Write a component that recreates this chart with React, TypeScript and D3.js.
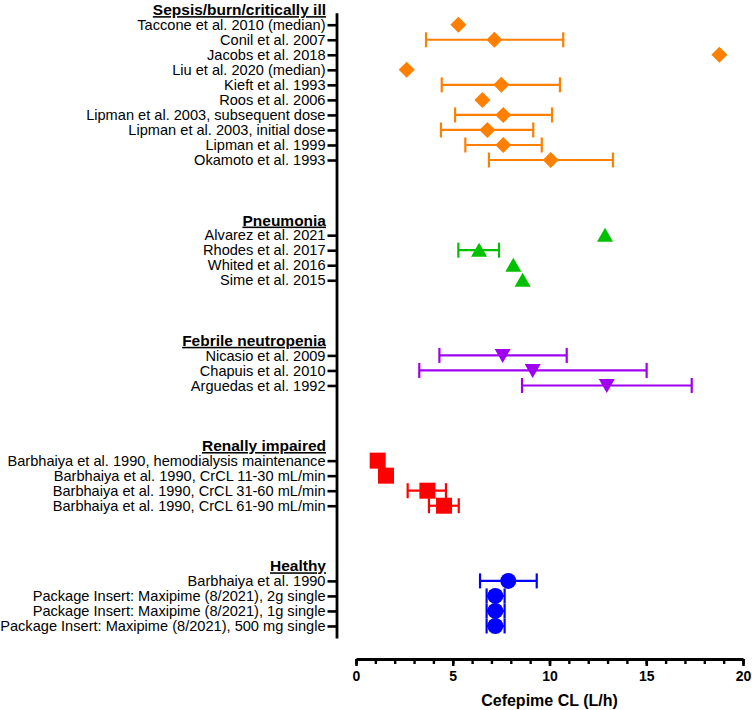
import React, { useEffect, useRef } from 'react'
import * as d3 from 'd3'

// Sepsis/burn/critically ill
const sepsisStudies = ['Taccone et al. 2010 (median)', 'Conil et al. 2007', 'Jacobs et al. 2018', 'Liu et al. 2020 (median)', 'Kieft et al. 1993', 'Roos et al. 2006', 'Lipman et al. 2003, subsequent dose', 'Lipman et al. 2003, initial dose', 'Lipman et al. 1999', 'Okamoto et al. 1993']
const sepsisCL = [5.29, 7.15, 18.78, 2.62, 7.51, 6.53, 7.61, 6.79, 7.61, 10.06]
const sepsisLo = [null, 3.62, null, null, 4.43, null, 5.12, 4.39, 5.65, 6.87]
const sepsisHi = [null, 10.71, null, null, 10.54, null, 10.13, 9.16, 9.6, 13.28]

// Pneumonia
const pneuStudies = ['Alvarez et al. 2021', 'Rhodes et al. 2017', 'Whited et al. 2016', 'Sime et al. 2015']
const pneuCL = [12.87, 6.36, 8.13, 8.61]
const pneuLo = [null, 5.29, null, null]
const pneuHi = [null, 7.39, null, null]

// Febrile neutropenia
const febStudies = ['Nicasio et al. 2009', 'Chapuis et al. 2010', 'Arguedas et al. 1992']
const febCL = [7.58, 9.13, 12.96]
const febLo = [4.31, 3.27, 8.58]
const febHi = [10.89, 15.02, 17.35]

// Renally impaired
const renalStudies = ['Barbhaiya et al. 1990, hemodialysis maintenance', 'Barbhaiya et al. 1990, CrCL 11-30 mL/min', 'Barbhaiya et al. 1990, CrCL 31-60 mL/min', 'Barbhaiya et al. 1990, CrCL 61-90 mL/min']
const renalCL = [1.12, 1.55, 3.69, 4.55]
const renalLo = [null, null, 2.67, 3.77]
const renalHi = [null, null, 4.65, 5.31]

// Healthy
const healthyStudies = ['Barbhaiya et al. 1990', 'Package Insert: Maxipime (8/2021), 2g single', 'Package Insert: Maxipime (8/2021), 1g single', 'Package Insert: Maxipime (8/2021), 500 mg single']
const healthyCL = [7.87, 7.2, 7.2, 7.2]
const healthyLo = [6.41, 6.75, 6.75, 6.75]
const healthyHi = [9.34, 7.68, 7.68, 7.68]

const xTicks = [0, 5, 10, 15, 20]

const groups = [
  { title: 'Sepsis/burn/critically ill', names: sepsisStudies, cl: sepsisCL, lo: sepsisLo, hi: sepsisHi, color: '#ff7f00', shape: 'diamond' },
  { title: 'Pneumonia', names: pneuStudies, cl: pneuCL, lo: pneuLo, hi: pneuHi, color: '#00c000', shape: 'up' },
  { title: 'Febrile neutropenia', names: febStudies, cl: febCL, lo: febLo, hi: febHi, color: '#a000f0', shape: 'down' },
  { title: 'Renally impaired', names: renalStudies, cl: renalCL, lo: renalLo, hi: renalHi, color: '#ff0000', shape: 'square' },
  { title: 'Healthy', names: healthyStudies, cl: healthyCL, lo: healthyLo, hi: healthyHi, color: '#0000ff', shape: 'circle' },
]

const FONT = '"Liberation Sans", Arial, sans-serif'

export default function App() {
  const svgRef = useRef<SVGSVGElement>(null)

  useEffect(() => {
    const svg = d3.select(svgRef.current)
    svg.selectAll('*').remove()

    // lay the groups out on rows: header row, study rows, then 3 empty rows
    const headers: { title: string, row: number }[] = []
    const rows: any[] = []
    let r = 0
    groups.forEach(g => {
      headers.push({ title: g.title, row: r })
      g.names.forEach((n, i) => {
        rows.push({ name: n, row: r + 1 + i, cl: g.cl[i], lo: g.lo[i], hi: g.hi[i], color: g.color, shape: g.shape })
      })
      r += g.names.length + 4
    })
    const lastRow = d3.max(rows, d => d.row) as number

    const x = d3.scaleLinear().domain([0, 20]).range([356, 743])
    const y = d3.scaleLinear().domain([0.2, lastRow + 0.8]).range([12.7, 638])
    const axisX = 336.5, xAxisY = 659

    // y axis
    const nameByRow = new Map(rows.map(d => [d.row, d.name]))
    const gy = svg.append('g').attr('transform', `translate(${axisX},0)`)
      .call(d3.axisLeft(y).tickValues(rows.map(d => d.row)).tickFormat(v => nameByRow.get(v as number)).tickSize(9).tickSizeOuter(0).tickPadding(2))
    gy.attr('font-family', FONT).attr('font-size', 14.6)
    gy.select('.domain').attr('stroke', '#000').attr('stroke-width', 2.8)
    gy.selectAll('.tick line').attr('stroke', '#000').attr('stroke-width', 2.6)
    gy.selectAll('.tick text').attr('fill', '#000')

    // group headers
    svg.append('g').selectAll('text').data(headers).join('text')
      .attr('x', 326).attr('y', d => y(d.row)).attr('dy', '0.35em')
      .attr('text-anchor', 'end').attr('font-family', FONT).attr('font-size', 15.5).attr('font-weight', 'bold')
      .attr('text-decoration', 'underline').text(d => d.title)

    // x axis: minor ticks then major ticks with labels
    const gxm = svg.append('g').attr('transform', `translate(0,${xAxisY})`)
      .call(d3.axisBottom(x).tickValues(d3.range(0, 21)).tickSize(5).tickSizeOuter(0).tickFormat(() => ''))
    gxm.select('.domain').attr('stroke', '#000').attr('stroke-width', 2.8)
    gxm.selectAll('.tick line').attr('stroke', '#000').attr('stroke-width', 2.4)
    const gx = svg.append('g').attr('transform', `translate(0,${xAxisY})`)
      .call(d3.axisBottom(x).tickValues(xTicks).tickSize(7).tickSizeOuter(0).tickPadding(5))
    gx.select('.domain').remove()
    gx.attr('font-family', FONT).attr('font-size', 14).attr('font-weight', 'bold')
    gx.selectAll('.tick line').attr('stroke', '#000').attr('stroke-width', 2.6)
    gx.selectAll('.tick text').attr('fill', '#000')

    svg.append('text').attr('x', (x(0) + x(20)) / 2).attr('y', 700).attr('dy', '0.35em')
      .attr('text-anchor', 'middle').attr('font-family', FONT).attr('font-size', 16).attr('font-weight', 'bold')
      .text('Cefepime CL (L/h)')

    // error bars
    const eb = svg.append('g').selectAll('g').data(rows.filter(d => d.lo != null)).join('g')
      .attr('stroke', d => d.color).attr('stroke-width', 2.2).attr('fill', 'none')
    eb.append('line').attr('x1', d => x(d.lo)).attr('x2', d => x(d.hi)).attr('y1', d => y(d.row)).attr('y2', d => y(d.row))
    eb.append('line').attr('x1', d => x(d.lo)).attr('x2', d => x(d.lo)).attr('y1', d => y(d.row) - 7.5).attr('y2', d => y(d.row) + 7.5)
    eb.append('line').attr('x1', d => x(d.hi)).attr('x2', d => x(d.hi)).attr('y1', d => y(d.row) - 7.5).attr('y2', d => y(d.row) + 7.5)

    // markers
    const symbolFor = (s: string) => {
      if (s === 'diamond') return 'M0,-8L8,0L0,8L-8,0Z'
      if (s === 'up') return 'M0,-7.5L8,6.5L-8,6.5Z'
      if (s === 'down') return 'M0,7.5L8,-6.5L-8,-6.5Z'
      if (s === 'square') return 'M-8,-8H8V8H-8Z'
      return d3.symbol(d3.symbolCircle, Math.PI * 64)() as string
    }
    svg.append('g').selectAll('path').data(rows).join('path')
      .attr('transform', d => `translate(${x(d.cl)},${y(d.row)})`)
      .attr('d', d => symbolFor(d.shape)).attr('fill', d => d.color)
  }, [])

  return (
    <svg ref={svgRef} width={752} height={710} style={{ position: 'absolute', left: 0, top: 0, background: '#fff' }} />
  )
}
